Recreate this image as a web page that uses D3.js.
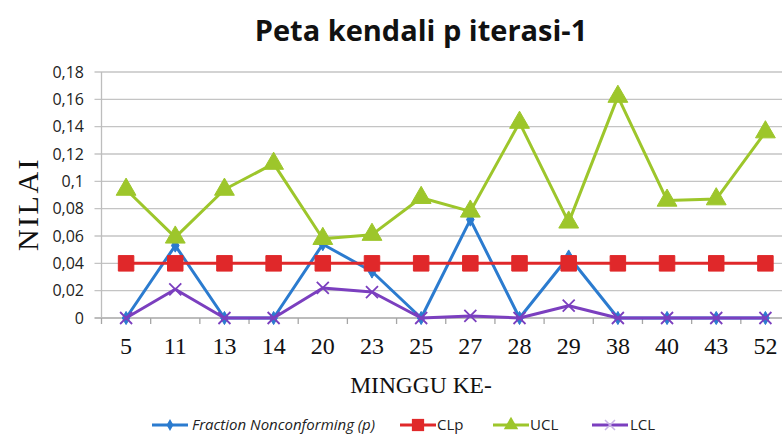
<!DOCTYPE html>
<html lang="en">
<head>
  <meta charset="utf-8">
  <title>Peta kendali p iterasi-1</title>
  <script src="https://cdn.jsdelivr.net/npm/d3@7"></script>
  <style>
    body { margin: 0; background: #fff; }
    svg { display: block; }
  </style>
</head>
<body>
  <svg id="chart" width="782" height="437"></svg>
  <script>
    // data
    var weeks = ["5", "11", "13", "14", "20", "23", "25", "27", "28", "29", "38", "40", "43", "52"];
    var pValues = [0, 0.053, 0, 0, 0.054, 0.034, 0, 0.072, 0, 0.045, 0, 0, 0, 0];
    var clValues = [0.04, 0.04, 0.04, 0.04, 0.04, 0.04, 0.04, 0.04, 0.04, 0.04, 0.04, 0.04, 0.04, 0.04];
    var uclValues = [0.094, 0.059, 0.094, 0.113, 0.058, 0.061, 0.088, 0.078, 0.143, 0.070, 0.162, 0.086, 0.087, 0.136];
    var lclValues = [0, 0.021, 0, 0, 0.022, 0.019, 0, 0.0015, 0, 0.009, 0, 0, 0, 0];
    var yTicks = [0, 0.02, 0.04, 0.06, 0.08, 0.1, 0.12, 0.14, 0.16, 0.18];

    var series = [
      { name: "Fraction Nonconforming (p)", values: pValues, color: "#2b7bcf", marker: "diamond", italic: true },
      { name: "CLp", values: clValues, color: "#e0282a", marker: "square" },
      { name: "UCL", values: uclValues, color: "#9dc62b", marker: "triangle" },
      { name: "LCL", values: lclValues, color: "#7b3fbf", marker: "cross" }
    ];

    var svg = d3.select("#chart");
    var plotLeft = 101.5, plotRight = 790, plotTop = 72, plotBottom = 318;

    var x = d3.scaleBand().domain(weeks).range([plotLeft, plotRight]);
    var y = d3.scaleLinear().domain([0, 0.18]).range([plotBottom, plotTop]);
    var fmt = function (d) { return d3.format("~g")(d).replace(".", ","); };

    // gridlines
    svg.append("g")
      .selectAll("line")
      .data(yTicks)
      .join("line")
      .attr("x1", plotLeft - 7).attr("x2", plotRight)
      .attr("y1", function (d) { return y(d); }).attr("y2", function (d) { return y(d); })
      .attr("stroke", function (d) { return d === 0 ? "#a6a6a6" : "#c4c4c4"; })
      .attr("stroke-width", 1.3);

    // y axis line
    svg.append("line")
      .attr("x1", plotLeft).attr("x2", plotLeft).attr("y1", plotTop).attr("y2", plotBottom)
      .attr("stroke", "#bdbdbd").attr("stroke-width", 1.3);

    // y tick labels
    svg.append("g")
      .selectAll("text")
      .data(yTicks)
      .join("text")
      .attr("x", 84)
      .attr("y", function (d) { return y(d) + 5.5; })
      .attr("text-anchor", "end")
      .attr("font-family", "Open Sans, sans-serif")
      .attr("font-size", 16)
      .attr("fill", "#222")
      .text(fmt);

    // x ticks between categories
    var bounds = weeks.map(function (w) { return x(w); }).concat([plotRight]);
    svg.append("g")
      .selectAll("line")
      .data(bounds)
      .join("line")
      .attr("x1", function (d) { return d; }).attr("x2", function (d) { return d; })
      .attr("y1", plotBottom).attr("y2", plotBottom + 6)
      .attr("stroke", "#a6a6a6").attr("stroke-width", 1.3);

    // x labels
    svg.append("g")
      .selectAll("text")
      .data(weeks)
      .join("text")
      .attr("x", function (d) { return x(d) + x.bandwidth() / 2; })
      .attr("y", 354)
      .attr("text-anchor", "middle")
      .attr("font-family", "Liberation Serif, Times New Roman, serif")
      .attr("font-size", 24)
      .attr("fill", "#111")
      .text(function (d) { return d; });

    // axis titles
    svg.append("text")
      .attr("x", 421).attr("y", 393)
      .attr("text-anchor", "middle")
      .attr("font-family", "Liberation Serif, Times New Roman, serif")
      .attr("font-size", 23.5)
      .attr("fill", "#111")
      .text("MINGGU KE-");

    svg.append("text")
      .attr("transform", "translate(38,204) rotate(-90)")
      .attr("text-anchor", "middle")
      .attr("font-family", "Liberation Serif, Times New Roman, serif")
      .attr("font-size", 30)
      .attr("letter-spacing", 2.5)
      .attr("fill", "#111")
      .text("NILAI");

    // title
    svg.append("text")
      .attr("x", 421).attr("y", 41)
      .attr("text-anchor", "middle")
      .attr("font-family", "Open Sans, sans-serif")
      .attr("font-weight", 700)
      .attr("font-size", 29)
      .attr("fill", "#111")
      .text("Peta kendali p iterasi-1");

    function markerPath(type) {
      if (type === "diamond") return d3.symbol(d3.symbolDiamond, 50)();
      if (type === "square") return d3.symbol(d3.symbolSquare, 240)();
      if (type === "triangle") return d3.symbol(d3.symbolTriangle, 170)();
      return "M-6,-6L6,6M-6,6L6,-6";
    }

    var line = d3.line()
      .x(function (d, i) { return x(weeks[i]) + x.bandwidth() / 2; })
      .y(function (d) { return y(d); });

    series.forEach(function (s) {
      var g = svg.append("g");
      g.append("path")
        .attr("d", line(s.values))
        .attr("fill", "none")
        .attr("stroke", s.color)
        .attr("stroke-width", 3)
        .attr("stroke-linejoin", "round");
      g.selectAll("path.m")
        .data(s.values)
        .join("path")
        .attr("class", "m")
        .attr("transform", function (d, i) {
          return "translate(" + (x(weeks[i]) + x.bandwidth() / 2) + "," + y(d) + ")";
        })
        .attr("d", markerPath(s.marker))
        .attr("fill", s.marker === "cross" ? "none" : s.color)
        .attr("stroke", s.color)
        .attr("stroke-width", s.marker === "cross" ? 1.8 : 1);
    });

    // legend
    var legendItems = [
      { x: 152, tx: 192 },
      { x: 400, tx: 437 },
      { x: 493, tx: 530 },
      { x: 592, tx: 630 }
    ];
    var leg = svg.append("g");
    series.forEach(function (s, i) {
      var lx = legendItems[i].x, ly = 425;
      leg.append("line")
        .attr("x1", lx).attr("x2", lx + 36).attr("y1", ly).attr("y2", ly)
        .attr("stroke", s.color).attr("stroke-width", 3);
      var sizes = { diamond: 40, square: 150, triangle: 90 };
      if (s.marker === "cross") {
        leg.append("path")
          .attr("transform", "translate(" + (lx + 18) + "," + ly + ")")
          .attr("d", "M-5,-5L5,5M-5,5L5,-5")
          .attr("stroke", "#c9b3e6").attr("stroke-width", 1.5);
      } else {
        var sym = s.marker === "diamond" ? d3.symbolDiamond : s.marker === "square" ? d3.symbolSquare : d3.symbolTriangle;
        leg.append("path")
          .attr("transform", "translate(" + (lx + 18) + "," + ly + ")")
          .attr("d", d3.symbol(sym, sizes[s.marker])())
          .attr("fill", s.color);
      }
      leg.append("text")
        .attr("x", legendItems[i].tx).attr("y", ly + 5)
        .attr("font-family", "Open Sans, sans-serif")
        .attr("font-size", 15)
        .attr("font-style", s.italic ? "italic" : "normal")
        .attr("fill", "#222")
        .text(s.name);
    });
  </script>
</body>
</html>
